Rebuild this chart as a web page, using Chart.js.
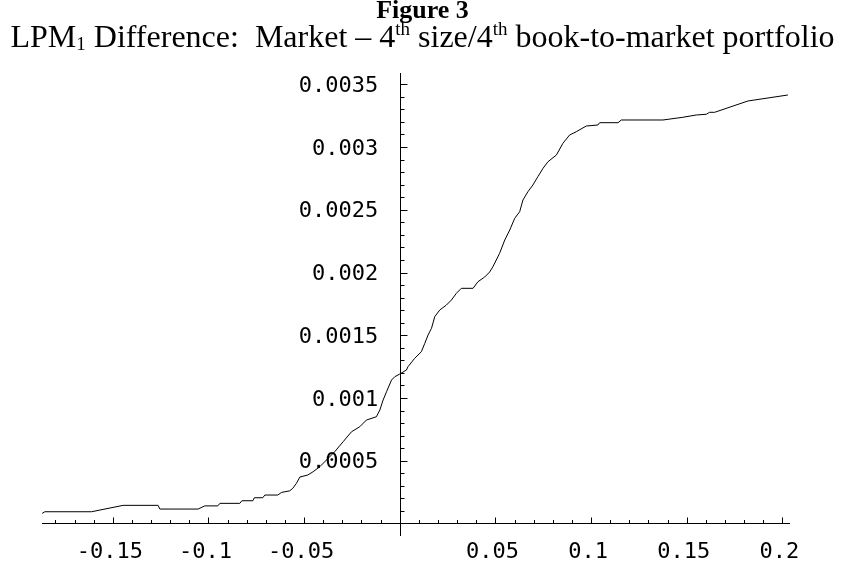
<!DOCTYPE html>
<html>
<head>
<meta charset="utf-8">
<script src="https://cdn.jsdelivr.net/npm/chart.js@4.4.0/dist/chart.umd.min.js"></script>
<style>
  html, body { margin: 0; padding: 0; background: #fff; }
  #wrap { position: relative; width: 845px; height: 565px; }
  #grafico { position: absolute; left: 0; top: 0; }
  .titulo { position: absolute; left: 0; width: 845px; text-align: center; color: #000;
            font-family: 'Liberation Serif', 'Times New Roman', serif; line-height: 1; white-space: nowrap; }
  #t1 { top: -3px; font-size: 26px; font-weight: bold; }
  #t2 { top: 20px; font-size: 32px; }
  #t2 sub { font-size: 19px; vertical-align: -3px; line-height: 0; }
  #t2 sup { font-size: 19px; vertical-align: 12px; line-height: 0; }
</style>
</head>
<body>
<div id="wrap">
  <canvas id="grafico" width="845" height="565"></canvas>
  <div class="titulo" id="t1">Figure 3</div>
  <div class="titulo" id="t2">LPM<sub>1</sub> Difference:&nbsp; Market – 4<sup>th</sup> size/4<sup>th</sup> book-to-market portfolio</div>
</div>
<script>
// valores (x = retorno, y = diferencia LPM1)
const xValores = [
  -0.1869, -0.1855, -0.1611, -0.1446, -0.1263, -0.1254, -0.1054, -0.1019, -0.0951, -0.0940,
  -0.0836, -0.0825, -0.0768, -0.0760, -0.0716, -0.0705, -0.0638, -0.0617, -0.0575, -0.0559,
  -0.0540, -0.0522, -0.0481, -0.0453, -0.0418, -0.0340, -0.0296, -0.0252, -0.0209, -0.0174,
  -0.0122, -0.0104, -0.0087, -0.0069, -0.0043, -0.0026, 0.0000, 0.0035, 0.0043, 0.0078,
  0.0113, 0.0131, 0.0148, 0.0166, 0.0183, 0.0209, 0.0244, 0.0270, 0.0296, 0.0322,
  0.0383, 0.0409, 0.0444, 0.0470, 0.0487, 0.0522, 0.0549, 0.0575, 0.0601, 0.0627,
  0.0644, 0.0670, 0.0696, 0.0722, 0.0749, 0.0775, 0.0819, 0.0853, 0.0888, 0.0923,
  0.0975, 0.1036, 0.1045, 0.1141, 0.1158, 0.1376, 0.1480, 0.1550, 0.1602, 0.1620,
  0.1646, 0.1820, 0.2029
];
const yValores = [
  0.0000805, 0.0000933, 0.0000933, 0.0001443, 0.0001443, 0.0001148, 0.0001148, 0.0001400, 0.0001400, 0.0001602,
  0.0001602, 0.0001809, 0.0001809, 0.0002049, 0.0002049, 0.0002264, 0.0002264, 0.0002479, 0.0002600, 0.0002800,
  0.0003196, 0.0003700, 0.0003858, 0.0004121, 0.0004520, 0.0005715, 0.0006512, 0.0007309, 0.0007708, 0.0008242,
  0.0008505, 0.0009039, 0.0009836, 0.0010498, 0.0011430, 0.0011693, 0.0011908, 0.0012227, 0.0012490, 0.0013160,
  0.0013686, 0.0014356, 0.0015017, 0.0015551, 0.0016476, 0.0017010, 0.0017408, 0.0017807, 0.0018341, 0.0018739,
  0.0018739, 0.0019266, 0.0019640, 0.0020039, 0.0020461, 0.0021530, 0.0022589, 0.0023386, 0.0024319, 0.0024845,
  0.0025778, 0.0026439, 0.0026973, 0.0027635, 0.0028305, 0.0028831, 0.0029365, 0.0030298, 0.0030959, 0.0031222,
  0.0031676, 0.0031756, 0.0031939, 0.0031939, 0.0032155, 0.0032155, 0.0032370, 0.0032553, 0.0032609, 0.0032768,
  0.0032768, 0.0033669, 0.0034147
];

const xTicks = [-0.15, -0.1, -0.05, 0.05, 0.1, 0.15, 0.2];
const yTicks = [0.0005, 0.001, 0.0015, 0.002, 0.0025, 0.003, 0.0035];

const X_MIN = -0.187, X_MAX = 0.204;
const Y_MIN = -0.0001, Y_MAX = 0.00359;
const X_PASO_MENOR = 0.01;
const Y_PASO_MENOR = 0.0001;
const Y_ETIQUETA_X = -0.0112; // donde se alinean las etiquetas del eje y

const fuenteTicks = { family: 'DejaVu Sans Mono', size: 22 };

// ejes cruzando en el origen, con marcas hacia adentro (estilo Mathematica)
const ejesPlugin = {
  id: 'ejesPlugin',
  afterDraw(chart) {
    const { ctx, chartArea: ca, scales: { x, y } } = chart;
    const x0 = Math.round(x.getPixelForValue(0)) + 0.5;
    const y0 = Math.round(y.getPixelForValue(0)) + 0.5;
    ctx.save();
    ctx.strokeStyle = '#000';
    ctx.lineWidth = 1;
    ctx.beginPath();
    ctx.moveTo(ca.left, y0); ctx.lineTo(ca.right, y0);
    ctx.moveTo(x0, ca.top); ctx.lineTo(x0, ca.bottom);

    for (let i = Math.ceil(X_MIN / X_PASO_MENOR); i * X_PASO_MENOR <= X_MAX + 1e-9; i++) {
      if (i === 0) continue;
      const v = i * X_PASO_MENOR;
      const mayor = Math.abs(i % 5) === 0;
      const px = Math.round(x.getPixelForValue(v)) + 0.5;
      ctx.moveTo(px, y0); ctx.lineTo(px, y0 - (mayor ? 6 : 3.5));
    }
    for (let j = 1; j * Y_PASO_MENOR <= Y_MAX + 1e-12; j++) {
      const v = j * Y_PASO_MENOR;
      const mayor = j % 5 === 0;
      const py = Math.round(y.getPixelForValue(v)) + 0.5;
      ctx.moveTo(x0, py); ctx.lineTo(x0 + (mayor ? 7 : 4), py);
    }
    ctx.stroke();
    ctx.restore();
  }
};

const ctx = document.getElementById('grafico').getContext('2d');

new Chart(ctx, {
  type: 'line',
  data: {
    datasets: [{
      data: xValores.map((v, i) => ({ x: v, y: yValores[i] })),
      borderColor: '#000',
      borderWidth: 1,
      pointRadius: 0,
      tension: 0,
      fill: false
    }]
  },
  options: {
    responsive: false,
    animation: false,
    events: [],
    layout: { padding: { left: 42, right: 55, top: 73, bottom: 29 } },
    plugins: {
      legend: { display: false },
      title: { display: false },
      tooltip: { enabled: false }
    },
    scales: {
      x: {
        type: 'linear',
        min: X_MIN,
        max: X_MAX,
        position: { y: 0 },
        afterBuildTicks: s => { s.ticks = xTicks.map(v => ({ value: v })); },
        ticks: {
          font: fuenteTicks,
          color: '#000',
          padding: 16,
          labelOffset: -3,
          maxRotation: 0,
          autoSkip: false,
          callback: v => String(v)
        },
        grid: { drawOnChartArea: false, drawTicks: false },
        border: { display: false }
      },
      y: {
        type: 'linear',
        min: Y_MIN,
        max: Y_MAX,
        position: { x: Y_ETIQUETA_X },
        afterBuildTicks: s => { s.ticks = yTicks.map(v => ({ value: v })); },
        ticks: {
          font: fuenteTicks,
          color: '#000',
          autoSkip: false,
          labelOffset: 2,
          callback: v => String(v)
        },
        grid: { drawOnChartArea: false, drawTicks: false },
        border: { display: false }
      }
    }
  },
  plugins: [ejesPlugin]
});
</script>
</body>
</html>
